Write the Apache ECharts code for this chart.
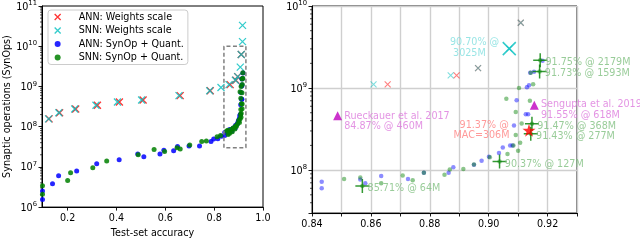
<!DOCTYPE html>
<html><head><meta charset="utf-8">
<script src="https://cdn.jsdelivr.net/npm/echarts@6/dist/echarts.min.js"></script>
<style>html,body{margin:0;padding:0;background:#fff}#c{width:640px;height:243px}</style>
</head><body><div id="c"></div>
<script>
// ---- data ----
const annW_acc = [0.124, 0.167, 0.233, 0.322, 0.412, 0.509, 0.661, 0.784, 0.8657, 0.8891, 0.8964, 0.9109];
const annW_ops = [1.56e8, 2.21e8, 2.76e8, 3.4e8, 4.1e8, 4.6e8, 5.9e8, 7.8e8, 1.11e9, 1.43e9, 1.75e9, 6.25e9];
const snnW_acc = [0.122, 0.164, 0.229, 0.316, 0.404, 0.503, 0.656, 0.782, 0.828, 0.8609, 0.8871, 0.8964, 0.907, 0.9109, 0.9160, 0.9162];
const snnW_ops = [1.56e8, 2.21e8, 2.76e8, 3.4e8, 4.1e8, 4.6e8, 5.9e8, 7.8e8, 9.4e8, 1.11e9, 1.43e9, 1.75e9, 3.02e9, 6.25e9, 1.3e10, 3.3e10];
const annQ_acc = [0.097, 0.097, 0.138, 0.163, 0.237, 0.319, 0.411, 0.487, 0.512, 0.578, 0.594, 0.634, 0.65, 0.697, 0.74, 0.787, 0.798, 0.815, 0.83,
  0.8433, 0.8433, 0.8564, 0.8581, 0.8635, 0.8726, 0.878, 0.8864, 0.888, 0.895, 0.8976, 0.9001, 0.9035, 0.9048, 0.9073, 0.9081, 0.9086, 0.9095, 0.9126, 0.9134, 0.913, 0.9137, 0.9141, 0.9154, 0.9183];
const annQ_ops = [1.55e6, 2.5e6, 3.8e6, 6.0e6, 7.9e6, 1.2e7, 1.5e7, 2.1e7, 1.78e7, 2.1e7, 2.6e7, 2.5e7, 3.2e7, 3.3e7, 3.3e7, 4.3e7, 4.9e7, 5.0e7, 5.8e7,
  7.2e7, 6.0e7, 7.7e7, 6.9e7, 8.5e7, 7.8e7, 9.3e7, 9.3e7, 1.08e8, 1.16e8, 1.3e8, 1.45e8, 1.62e8, 1.89e8, 2.0e8, 2.0e8, 3.5e8, 7.1e8, 4.8e8, 4.8e8, 1.02e9, 1.08e9, 1.54e9, 1.58e9, 2.15e9];
const snnQ_acc = [0.097, 0.097, 0.2, 0.212, 0.303, 0.36, 0.489, 0.554, 0.597, 0.648, 0.661, 0.70, 0.749, 0.768, 0.812, 0.826,
  0.8509, 0.8564, 0.8635, 0.8708, 0.8742, 0.878, 0.885, 0.8868, 0.8914, 0.895, 0.9004, 0.9064, 0.9084, 0.91, 0.9107, 0.9092, 0.9112, 0.9092, 0.906, 0.9103, 0.914, 0.9151, 0.9143,
  0.8571, 0.9037, 0.9143, 0.9147, 0.9173, 0.9175];
const snnQ_ops = [3.4e6, 2.1e6, 4.6e6, 7.1e6, 9.5e6, 1.4e7, 2.0e7, 2.7e7, 2.4e7, 3.0e7, 2.8e7, 3.5e7, 4.3e7, 4.4e7, 5.6e7, 6.0e7,
  7.8e7, 8.1e7, 6.9e7, 8.6e7, 7.5e7, 9.3e7, 8.8e7, 1.02e8, 1.03e8, 1.17e8, 1.43e8, 1.57e8, 2.0e8, 1.72e8, 2.15e8, 2.67e8, 3.7e8, 5.1e8, 7.4e8, 1.0e9, 7.0e8, 1.11e9, 1.54e9,
  6.4e7, 1.27e8, 2.77e8, 3.68e8, 1.593e9, 2.179e9];
// highlighted SNN results
const snnSel_acc = [0.8571, 0.9037, 0.9143, 0.9147, 0.9173, 0.9175];
const snnSel_ops = [64e6, 127e6, 277e6, 368e6, 1593e6, 2179e6];
const snnSel_lbl = ['85.71% @ 64M', '90.37% @ 127M', '91.43% @ 277M', '91.47% @ 368M', '91.73% @ 1593M', '91.75% @ 2179M'];
const snnWSel_acc = [0.9070];
const snnWSel_ops = [3025e6];
const snnWSel_lbl = ['90.70% @\n 3025M'];
const annMac_acc = [0.9137];
const annMac_ops = [306e6];
const annMac_lbl = ['  91.37% @\nMAC=306M'];
const ref_acc = [0.8487, 0.9155];
const ref_ops = [460e6, 618e6];
const ref_lbl = ['Rueckauer et al. 2017\n84.87% @ 460M', 'Sengupta et al. 2019\n91.55% @ 618M'];
const zoomBox_acc = [0.84, 0.93];
const zoomBox_ops = [3e7, 1e10];
const leftTicks = [0.2, 0.4, 0.6, 0.8, 1.0];
const legendNames = ['ANN: Weights scale', 'SNN: Weights scale', 'ANN: SynOp + Quant.', 'SNN: SynOp + Quant.'];

// ---- helpers ----
const FF = 'DejaVu Sans';
const FS = 9.6;
const zip = (a, b) => a.map((v, i) => [v, b[i]]);
const XSYM = 'path://M0,0L10,10M10,0L0,10';
const PSYM = 'path://M5,0L5,10M0,5L10,5';
const STAR = 'path://M50,0L61,35L98,35L68,57L79,91L50,70L21,91L32,57L2,35L39,35Z';
function powLabel(v) {
  const e = Math.log10(v), r = Math.round(e);
  if (Math.abs(e - r) > 1e-6) return '';
  return '{b|10}{s|' + r + '}';
}
const powRich = {
  b: { fontSize: FS, fontFamily: FF, color: '#000', verticalAlign: 'bottom' },
  s: { fontSize: 6.8, fontFamily: FF, color: '#000', verticalAlign: 'bottom', padding: [0, 0, 5, 0] }
};
const grids = [
  { left: 42, top: 6, width: 221, height: 207, show: true, borderColor: '#000', borderWidth: 1, backgroundColor: 'transparent' },
  { left: 312, top: 6, width: 265, height: 207, show: true, borderColor: '#000', borderWidth: 1, backgroundColor: 'transparent' }
];
const axLine = { show: true, lineStyle: { color: '#000', width: 1 } };
const tick = { show: true, inside: false, length: 3.5, lineStyle: { color: '#000', width: 0.9 } };
const lblX = { color: '#000', fontSize: FS, fontFamily: FF, margin: 6 };

function labelled(acc, ops, lbls, pos, color) {
  return acc.map((a, i) => ({ value: [a, ops[i]], label: { show: true, formatter: lbls[i], position: pos[i] || pos[0], color: color } }));
}
const lblBase = { fontSize: FS, fontFamily: FF, align: 'left', verticalAlign: 'top', lineHeight: 10.5 };

const option = {
  animation: false,
  grid: grids,
  xAxis: [
    { type: 'value', gridIndex: 0, min: 0.095, max: 1.0,
      axisLine: axLine, splitLine: { show: false },
      axisTick: Object.assign({}, tick, { customValues: leftTicks }),
      axisLabel: Object.assign({}, lblX, { customValues: leftTicks, formatter: v => v.toFixed(1) }),
      name: 'Test-set accuracy', nameLocation: 'middle', nameGap: 19,
      nameTextStyle: { color: '#000', fontSize: FS, fontFamily: FF } },
    { type: 'value', gridIndex: 1, min: 0.84, max: 0.93, interval: 0.01,
      axisLine: axLine, axisTick: tick,
      splitLine: { show: true, lineStyle: { color: '#cfcfcf', width: 1.4 } },
      axisLabel: Object.assign({}, lblX, { formatter: v => (Math.round(v * 100) % 2 === 0 ? v.toFixed(2) : ''), showMaxLabel: true }) }
  ],
  yAxis: [
    { type: 'log', gridIndex: 0, min: 1e6, max: 1e11, logBase: 10,
      axisLine: axLine, axisTick: tick, splitLine: { show: false },
      axisLabel: { formatter: powLabel, rich: powRich, margin: 5 },
      name: 'Synaptic operations (SynOps)', nameLocation: 'middle', nameGap: 30,
      nameTextStyle: { color: '#000', fontSize: FS, fontFamily: FF } },
    { type: 'log', gridIndex: 1, min: 3e7, max: 1e10, logBase: 10,
      axisLine: axLine, axisTick: tick,
      splitLine: { show: true, lineStyle: { color: '#cfcfcf', width: 1.4 } },
      axisLabel: { formatter: powLabel, rich: powRich, margin: 5 } }
  ],
  legend: {
    orient: 'vertical', left: 48, top: 10, padding: [2, 4, 2, 6],
    itemWidth: 6, itemHeight: 6, itemGap: 3.5,
    backgroundColor: '#fff', borderColor: '#cccccc', borderWidth: 1, borderRadius: 3,
    textStyle: { fontSize: FS, fontFamily: FF, color: '#000', padding: [0, 0, 0, 13] },
    data: [
      { name: legendNames[0], itemStyle: { borderWidth: 1.3 } },
      { name: legendNames[1], itemStyle: { borderWidth: 1.3 } },
      { name: legendNames[2] },
      { name: legendNames[3] }
    ]
  },
  series: [
    // ---- left panel ----
    { name: legendNames[0], type: 'scatter', xAxisIndex: 0, yAxisIndex: 0, symbol: XSYM, symbolSize: 7,
      itemStyle: { color: '#ff0000', borderColor: '#ff0000', borderWidth: 1.3 }, data: zip(annW_acc, annW_ops) },
    { name: legendNames[1], type: 'scatter', xAxisIndex: 0, yAxisIndex: 0, symbol: XSYM, symbolSize: 7,
      itemStyle: { color: '#00bfbf', borderColor: '#00bfbf', borderWidth: 1.3 }, data: zip(snnW_acc, snnW_ops) },
    { name: legendNames[2], type: 'scatter', xAxisIndex: 0, yAxisIndex: 0, symbol: 'circle', symbolSize: 5,
      itemStyle: { color: '#0000ff', opacity: 0.85 }, data: zip(annQ_acc, annQ_ops) },
    { name: legendNames[3], type: 'scatter', xAxisIndex: 0, yAxisIndex: 0, symbol: 'circle', symbolSize: 5,
      itemStyle: { color: '#008000', opacity: 0.85 }, data: zip(snnQ_acc, snnQ_ops) },
    { name: 'box', type: 'line', xAxisIndex: 0, yAxisIndex: 0, symbol: 'none', silent: true,
      lineStyle: { color: '#808080', width: 1.5, type: [4, 2.5] },
      data: [[zoomBox_acc[0], zoomBox_ops[0]], [zoomBox_acc[0], zoomBox_ops[1]], [zoomBox_acc[1], zoomBox_ops[1]], [zoomBox_acc[1], zoomBox_ops[0]], [zoomBox_acc[0], zoomBox_ops[0]]] },
    // ---- right panel ----
    { name: 'r_annQ', type: 'scatter', xAxisIndex: 1, yAxisIndex: 1, symbol: 'circle', symbolSize: 4.5,
      itemStyle: { color: '#0000ff', opacity: 0.45 }, data: zip(annQ_acc, annQ_ops) },
    { name: 'r_snnQ', type: 'scatter', xAxisIndex: 1, yAxisIndex: 1, symbol: 'circle', symbolSize: 4.5,
      itemStyle: { color: '#008000', opacity: 0.45 }, data: zip(snnQ_acc, snnQ_ops) },
    { name: 'r_annW', type: 'scatter', xAxisIndex: 1, yAxisIndex: 1, symbol: XSYM, symbolSize: 6,
      itemStyle: { color: '#ff0000', borderColor: '#ff0000', borderWidth: 1.1, opacity: 0.5 }, data: zip(annW_acc, annW_ops) },
    { name: 'r_snnW', type: 'scatter', xAxisIndex: 1, yAxisIndex: 1, symbol: XSYM, symbolSize: 6,
      itemStyle: { color: '#00bfbf', borderColor: '#00bfbf', borderWidth: 1.1, opacity: 0.5 }, data: zip(snnW_acc, snnW_ops) },
    { name: 'r_snnSel', type: 'scatter', xAxisIndex: 1, yAxisIndex: 1, symbol: PSYM, symbolSize: 14,
      itemStyle: { color: '#008000', borderColor: '#008000', borderWidth: 1.5 },
      label: lblBase, data: labelled(snnSel_acc, snnSel_ops, snnSel_lbl, [[13, 5]], '#7fbf7f') },
    { name: 'r_snnWSel', type: 'scatter', xAxisIndex: 1, yAxisIndex: 1, symbol: XSYM, symbolSize: 13,
      itemStyle: { color: '#00bfbf', borderColor: '#00bfbf', borderWidth: 1.6 },
      label: lblBase, data: labelled(snnWSel_acc, snnWSel_ops, snnWSel_lbl, [[-52, -4]], '#7fdfdf') },
    { name: 'r_annMac', type: 'scatter', xAxisIndex: 1, yAxisIndex: 1, symbol: STAR, symbolSize: 13,
      itemStyle: { color: '#ff0000' },
      label: lblBase, data: labelled(annMac_acc, annMac_ops, annMac_lbl, [[-69, -3.7]], '#ff7f7f') },
    { name: 'r_ref', type: 'scatter', xAxisIndex: 1, yAxisIndex: 1, symbol: 'triangle', symbolSize: 9,
      itemStyle: { color: '#bf00bf' },
      label: lblBase, data: labelled(ref_acc, ref_ops, ref_lbl, [[11.1, -0.3], [11.2, -1]], '#dc78dc') }
  ]
};

const chart = echarts.init(document.getElementById('c'), null, { renderer: 'canvas' });
chart.setOption(option);

// minor log ticks (2..9 x 10^n) placed through the axis scales
function minorTicks(axisIdx, lo, hi, xPix) {
  const out = [];
  for (let e = Math.floor(Math.log10(lo)); e <= Math.ceil(Math.log10(hi)); e++) {
    for (let k = 2; k <= 9; k++) {
      const v = k * Math.pow(10, e);
      if (v <= lo || v >= hi) continue;
      const y = chart.convertToPixel({ yAxisIndex: axisIdx }, v);
      out.push({ type: 'line', silent: true, shape: { x1: xPix - 2, y1: y, x2: xPix, y2: y }, style: { stroke: '#000', lineWidth: 0.7 } });
    }
  }
  return out;
}
const xl0 = chart.convertToPixel({ xAxisIndex: 0 }, 0.095);
const xl1 = chart.convertToPixel({ xAxisIndex: 1 }, 0.84);
chart.setOption({ graphic: minorTicks(0, 1e6, 1e11, xl0).concat(minorTicks(1, 3e7, 1e10, xl1)) });
</script></body></html>
